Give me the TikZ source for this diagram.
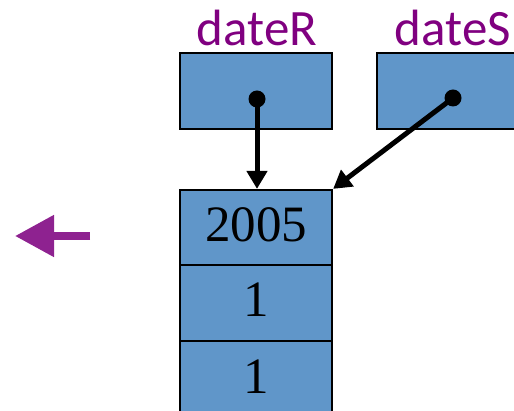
\documentclass[tikz,border=0pt]{standalone}
\usepackage{fontspec}
\setmainfont{Liberation Serif}
\newfontfamily\lblfont{Carlito}
\usetikzlibrary{arrows.meta}
\definecolor{cellblue}{HTML}{6096C9}
\definecolor{lblpurple}{HTML}{800080}
\definecolor{arrpurple}{HTML}{8E2290}
\begin{document}
\begin{tikzpicture}[x=1pt,y=-1pt,
  cell/.style={draw=black, line width=2.2pt, fill=cellblue, minimum width=152pt, minimum height=76pt, inner sep=0pt, text height=28pt, text depth=0pt, font=\fontsize{51}{51}\selectfont},
  varlabel/.style={anchor=base, inner sep=0pt, text=lblpurple, font=\lblfont\fontsize{51}{51}\selectfont},
  ptr/.style={line width=5pt, -{Triangle[length=18pt,width=20pt]}},
  dot/.style={fill=black}
]
\useasboundingbox (0,0) rectangle (514,411);
% pointer variables
\node[cell] (rR) at (256,91) {};
\node[cell] (rS) at (453,91) {};
\node[varlabel] (lR) at (257,46) {dateR};
\node[varlabel] (lS) at (453,46) {dateS};
% date object
\node[cell, minimum height=75pt] (c1) at (256,227.5) {2005};
\node[cell] (c2) at (256,303) {1};
\node[cell] (c3) at (256,379) {1};
% pointers
\coordinate (pR) at (257,99);
\coordinate (pS) at (453,98);
\draw[ptr] (pR) -- (pR |- c1.north);
\draw[ptr] (pS) -- (c1.north east);
\fill[dot] (pR) circle (8.5);
\fill[dot] (pS) circle (8.5);
% purple arrow
\coordinate (pa) at (90,236);
\coordinate (pb) at (15,236);
\draw[arrpurple, line width=8pt, -{Triangle[length=39pt,width=40pt]}] (pa) -- (pb);
\end{tikzpicture}
\end{document}
